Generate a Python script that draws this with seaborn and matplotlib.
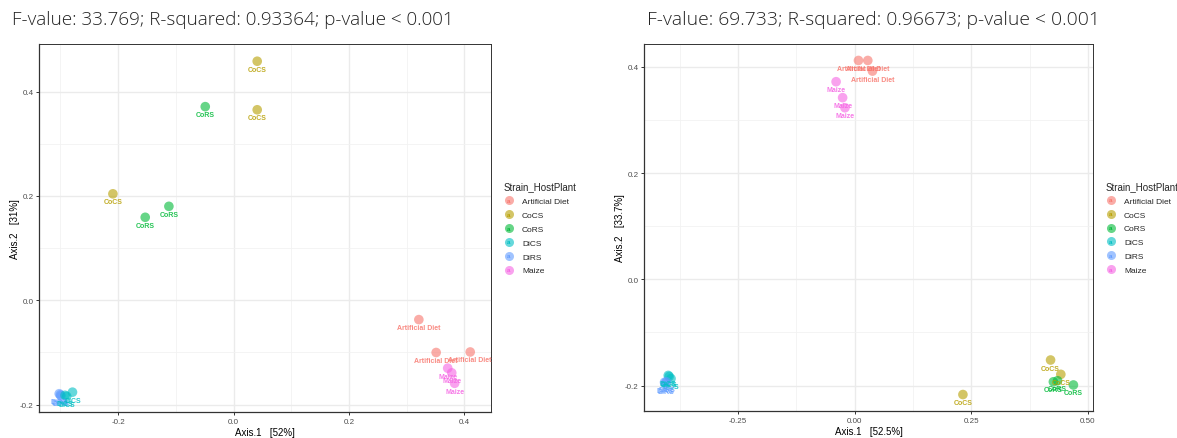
import matplotlib
matplotlib.use("Agg")
import matplotlib.pyplot as plt
import seaborn as sns
import pandas as pd
from matplotlib.legend_handler import HandlerBase
from matplotlib.lines import Line2D
from matplotlib.text import Text

sns.set_style("white")
plt.rcParams['font.family'] = ['Liberation Sans', 'DejaVu Sans']

groups = ["Artificial Diet", "CoCS", "CoRS", "DiCS", "DiRS", "Maize"]
colors = ["#F8766D", "#B79F00", "#00BA38", "#00BFC4", "#619CFF", "#F564E3"]

# Left panel (PCoA 1)
left_group = ["CoCS", "CoCS", "CoCS", "CoRS", "CoRS", "CoRS",
              "Artificial Diet", "Artificial Diet", "Artificial Diet",
              "Maize", "Maize", "Maize",
              "DiRS", "DiRS", "DiRS", "DiCS", "DiCS", "DiCS"]
left_x = [0.041, 0.041, -0.209, -0.049, -0.153, -0.112,
          0.321, 0.351, 0.410,
          0.371, 0.378, 0.383,
          -0.302, -0.300, -0.299, -0.292, -0.289, -0.279]
left_y = [0.458, 0.365, 0.204, 0.371, 0.159, 0.180,
          -0.037, -0.100, -0.099,
          -0.130, -0.139, -0.159,
          -0.179, -0.181, -0.183, -0.182, -0.184, -0.176]

# Right panel (PCoA 2)
right_group = ["Artificial Diet", "Artificial Diet", "Artificial Diet",
               "Maize", "Maize", "Maize",
               "DiCS", "DiCS", "DiCS", "DiRS", "DiRS", "DiRS",
               "CoCS", "CoCS", "CoCS", "CoRS", "CoRS", "CoRS"]
right_x = [0.008, 0.028, 0.038,
           -0.040, -0.026, -0.021,
           -0.400, -0.398, -0.394, -0.408, -0.406, -0.404,
           0.420, 0.442, 0.232, 0.426, 0.435, 0.469]
right_y = [0.412, 0.412, 0.392,
           0.372, 0.342, 0.323,
           -0.181, -0.183, -0.187, -0.194, -0.196, -0.193,
           -0.152, -0.179, -0.217, -0.193, -0.191, -0.199]

titles = ["F-value: 33.769; R-squared: 0.93364; p-value < 0.001",
          "F-value: 69.733; R-squared: 0.96673; p-value < 0.001"]
xlabels = ["Axis.1   [52%]", "Axis.1   [52.5%]"]
ylabels = ["Axis.2   [31%]", "Axis.2   [33.7%]"]
left_xticks = [-0.2, 0.0, 0.2, 0.4]
left_xminor = [-0.3, -0.1, 0.1, 0.3]
right_xticks = [-0.25, 0.0, 0.25, 0.50]
right_xticklabels = ["-0.25", "0.00", "0.25", "0.50"]
right_xminor = [-0.375, -0.125, 0.125, 0.375]
yticks = [-0.2, 0.0, 0.2, 0.4]
yminor = [-0.1, 0.1, 0.3]

W, H = 1177, 439
fig = plt.figure(figsize=(W / 100, H / 100), dpi=100)
ax1 = fig.add_axes([39 / W, 1 - 413 / H, (491 - 39) / W, (413 - 45) / H])
ax2 = fig.add_axes([644 / W, 1 - 412 / H, (1093 - 644) / W, (412 - 45) / H])

palette = dict(zip(groups, colors))


class HandlerA(HandlerBase):
    def create_artists(self, legend, orig_handle, xdescent, ydescent, width, height, fontsize, trans):
        cx = width / 2 - xdescent
        cy = height / 2 - ydescent
        c = orig_handle.get_color()
        m = Line2D([cx], [cy], marker='o', markersize=6.5, color=c, alpha=0.6,
                   linestyle='', markeredgewidth=0, transform=trans)
        t = Text(cx, cy, "a", color=c, fontsize=4.5, ha='center', va='center',
                 fontweight='bold', transform=trans)
        return [m, t]


def draw(ax, gx, gy, gg, xlim, ylim, xticks, xtl, xminor, title, xl, yl, tx, tsize):
    df = pd.DataFrame({"x": gx, "y": gy, "g": gg})
    ax.set_axisbelow(True)
    sns.scatterplot(data=df, x="x", y="y", hue="g", hue_order=groups, palette=palette,
                    s=48, alpha=0.6, linewidth=0, ax=ax, legend=False, zorder=3)
    for x, y, g in zip(gx, gy, gg):
        ax.annotate(g, (x, y), xytext=(0, -8), textcoords='offset pixels',
                    ha='center', va='center', fontsize=5, fontweight='bold',
                    color=palette[g], alpha=0.85, zorder=4)
    ax.set_xlim(*xlim)
    ax.set_ylim(*ylim)
    ax.set_xticks(xticks)
    ax.set_xticklabels(xtl)
    ax.set_xticks(xminor, minor=True)
    ax.set_yticks(yticks)
    ax.set_yticklabels([f"{v:.1f}" for v in yticks])
    ax.set_yticks(yminor, minor=True)
    ax.grid(True, which='major', color='#EBEBEB', linewidth=1.0)
    ax.grid(True, which='minor', color='#F2F2F2', linewidth=0.6)
    ax.tick_params(axis='both', which='major', length=2.5, width=0.7, color='#333333',
                   labelsize=5.8, labelcolor='#4D4D4D', pad=1.5, bottom=True, left=True)
    ax.tick_params(axis='both', which='minor', length=0)
    for s, sp in ax.spines.items():
        sp.set_color('#333333')
        sp.set_linewidth(0.9 if s in ('left', 'bottom') else 0.7)
    ax.set_xlabel(xl, fontsize=7, labelpad=2, color='black')
    ax.set_ylabel(yl, fontsize=7, labelpad=0, color='black')
    handles = [Line2D([], [], color=c, label=g) for g, c in zip(groups, colors)]
    leg = ax.legend(handles=handles, labels=groups, title="Strain_HostPlant",
                    handler_map={Line2D: HandlerA()}, loc='center left',
                    bbox_to_anchor=(1.015, 0.5), frameon=False, fontsize=6,
                    title_fontsize=7, handlelength=1.3, handletextpad=0.9,
                    labelspacing=0.72, borderaxespad=0.3)
    leg._legend_box.align = "left"
    fig.text(tx / W, 1 - 20 / H, title, fontsize=tsize, family=['Open Sans', 'DejaVu Sans'],
             fontweight='light', va='center', ha='left', color='#222222')


draw(ax1, left_x, left_y, left_group, (-0.337, 0.446), (-0.214, 0.491),
     left_xticks, [f"{v:.1f}" for v in left_xticks], left_xminor,
     titles[0], xlabels[0], ylabels[0], 12, 13.6)
draw(ax2, right_x, right_y, right_group, (-0.452, 0.511), (-0.248, 0.443),
     right_xticks, right_xticklabels, right_xminor,
     titles[1], xlabels[1], ylabels[1], 647, 13.9)

fig.savefig("out.png", dpi=100)
